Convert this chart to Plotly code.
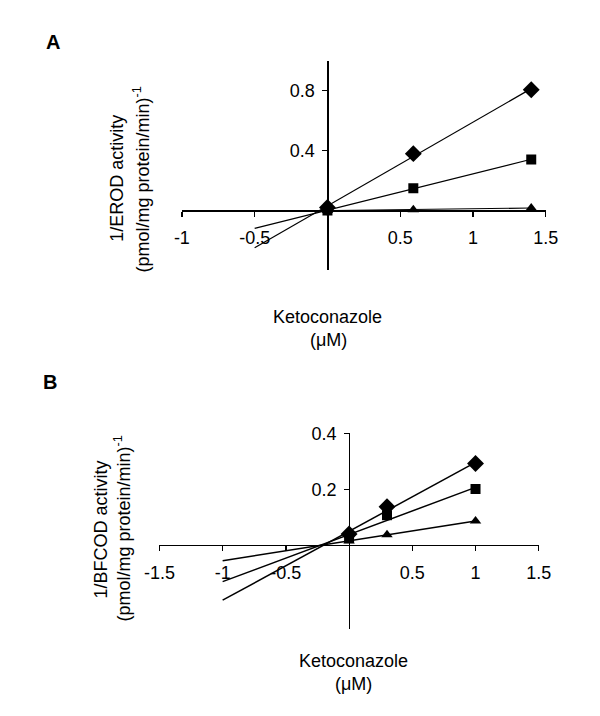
import numpy as np
import plotly.graph_objects as go

# ---------------- data ----------------
# Panel A: 1/EROD activity vs ketoconazole
conc_A = [0.0, 0.59, 1.40]
erod_diamond = [0.020, 0.379, 0.805]
erod_square = [0.000, 0.149, 0.340]
erod_triangle = [0.000, 0.005, 0.017]
trend_start_A = -0.5

# Panel B: 1/BFCOD activity vs ketoconazole
conc_B = [0.0, 0.30, 1.00]
bfcod_diamond = [0.040, 0.137, 0.292]
bfcod_square = [0.025, 0.107, 0.201]
bfcod_triangle = [0.015, 0.037, 0.086]
trend_start_B = -1.0

xticks_A = [-1, -0.5, 0.5, 1, 1.5]
yticks_A = [0.4, 0.8]
xticks_B = [-1.5, -1, -0.5, 0.5, 1, 1.5]
yticks_B = [0.2, 0.4]

# ---------------- layout geometry ----------------
W, H = 600, 716
FONT = "Liberation Sans, Arial, sans-serif"

def px_x(p):
    return p / W

def px_y(p):
    return 1 - p / H

panels = {
    "A": dict(xrange=[-1, 1.5], yrange=[-0.4, 1.0],
              xdom=[px_x(174.3), px_x(556.7)], ydom=[px_y(264.1), px_y(51.3)]),
    "B": dict(xrange=[-1.5, 1.5], yrange=[-0.3, 0.4],
              xdom=[px_x(150.7), px_x(549.3)], ydom=[px_y(627.75), px_y(429.3)]),
}

def zero_pos(rng, dom):
    f = (0 - rng[0]) / (rng[1] - rng[0])
    return dom[0] + f * (dom[1] - dom[0])

fig = go.Figure()

symbols = {"diamond": ("diamond", 13), "square": ("square", 10), "triangle": ("triangle-up", 10)}

def add_series(xs, ys, start, sym, xa, ya, lw):
    slope, icpt = np.polyfit(xs, ys, 1)
    lx = np.array([start, max(xs)])
    fig.add_trace(go.Scatter(x=lx, y=slope * lx + icpt, mode="lines",
                             line=dict(color="black", width=lw),
                             xaxis=xa, yaxis=ya, showlegend=False, hoverinfo="skip"))
    s, size = symbols[sym]
    fig.add_trace(go.Scatter(x=xs, y=ys, mode="markers",
                             marker=dict(symbol=s, size=size, color="black"),
                             xaxis=xa, yaxis=ya, showlegend=False, hoverinfo="skip"))

for ys, sym in [(erod_diamond, "diamond"), (erod_square, "square"), (erod_triangle, "triangle")]:
    add_series(conc_A, ys, trend_start_A, sym, "x", "y", 1.2)
for ys, sym in [(bfcod_diamond, "diamond"), (bfcod_square, "square"), (bfcod_triangle, "triangle")]:
    add_series(conc_B, ys, trend_start_B, sym, "x2", "y2", 1.5)

def fmt(v):
    return ("%g" % v)

def axis_common():
    return dict(showline=True, linecolor="black", linewidth=1.3,
                ticks="outside", ticklen=5, tickwidth=1.3, tickcolor="black",
                showgrid=False, zeroline=False, anchor="free", fixedrange=True,
                tickfont=dict(family=FONT, size=18, color="black"))

pa, pb = panels["A"], panels["B"]
fig.update_layout(
    width=W, height=H,
    margin=dict(l=0, r=0, t=0, b=0),
    paper_bgcolor="white", plot_bgcolor="white",
    font=dict(family=FONT, color="black"),
    hovermode=False,
    xaxis=dict(**axis_common(), range=pa["xrange"], domain=pa["xdom"],
               position=zero_pos(pa["yrange"], pa["ydom"]),
               tickvals=xticks_A, ticktext=[fmt(v) for v in xticks_A], ticklabelstandoff=6),
    yaxis=dict(**axis_common(), range=pa["yrange"], domain=pa["ydom"],
               position=zero_pos(pa["xrange"], pa["xdom"]),
               tickvals=yticks_A, ticktext=[fmt(v) for v in yticks_A], ticklabelstandoff=4),
    xaxis2=dict(**axis_common(), range=pb["xrange"], domain=pb["xdom"],
                position=zero_pos(pb["yrange"], pb["ydom"]),
                tickvals=xticks_B, ticktext=[fmt(v) for v in xticks_B], ticklabelstandoff=6),
    yaxis2=dict(**axis_common(), range=pb["yrange"], domain=pb["ydom"],
                position=zero_pos(pb["xrange"], pb["xdom"]),
                tickvals=yticks_B, ticktext=[fmt(v) for v in yticks_B], ticklabelstandoff=4),
)

ann = []
def add_text(text, x, y, size=18, angle=0, bold=False):
    ann.append(dict(text=("<b>%s</b>" % text) if bold else text,
                    x=px_x(x), y=px_y(y), xref="paper", yref="paper",
                    xanchor="center", yanchor="middle", showarrow=False,
                    textangle=angle, font=dict(family=FONT, size=size, color="black")))

add_text("A", 38.5, 32, size=20, bold=True)
add_text("B", 36, 377, size=20, bold=True)
add_text("1/EROD activity", 106.7, 170.5, angle=-90)
add_text("(pmol/mg protein/min)<sup>-1</sup>", 131.7, 171.5, angle=-90)
add_text("Ketoconazole", 327, 311)
add_text("(\u03bcM)", 328, 335)
add_text("1/BFCOD activity", 89.3, 527, angle=-90)
add_text("(pmol/mg protein/min)<sup>-1</sup>", 111.7, 525.5, angle=-90)
add_text("Ketoconazole", 354.7, 660)
add_text("(\u03bcM)", 354.7, 683.3)
fig.update_layout(annotations=ann)

fig.write_html("out.html",
               config={"displayModeBar": False, "staticPlot": True},
               post_script="document.body.style.margin='0';document.body.style.overflow='hidden';")
